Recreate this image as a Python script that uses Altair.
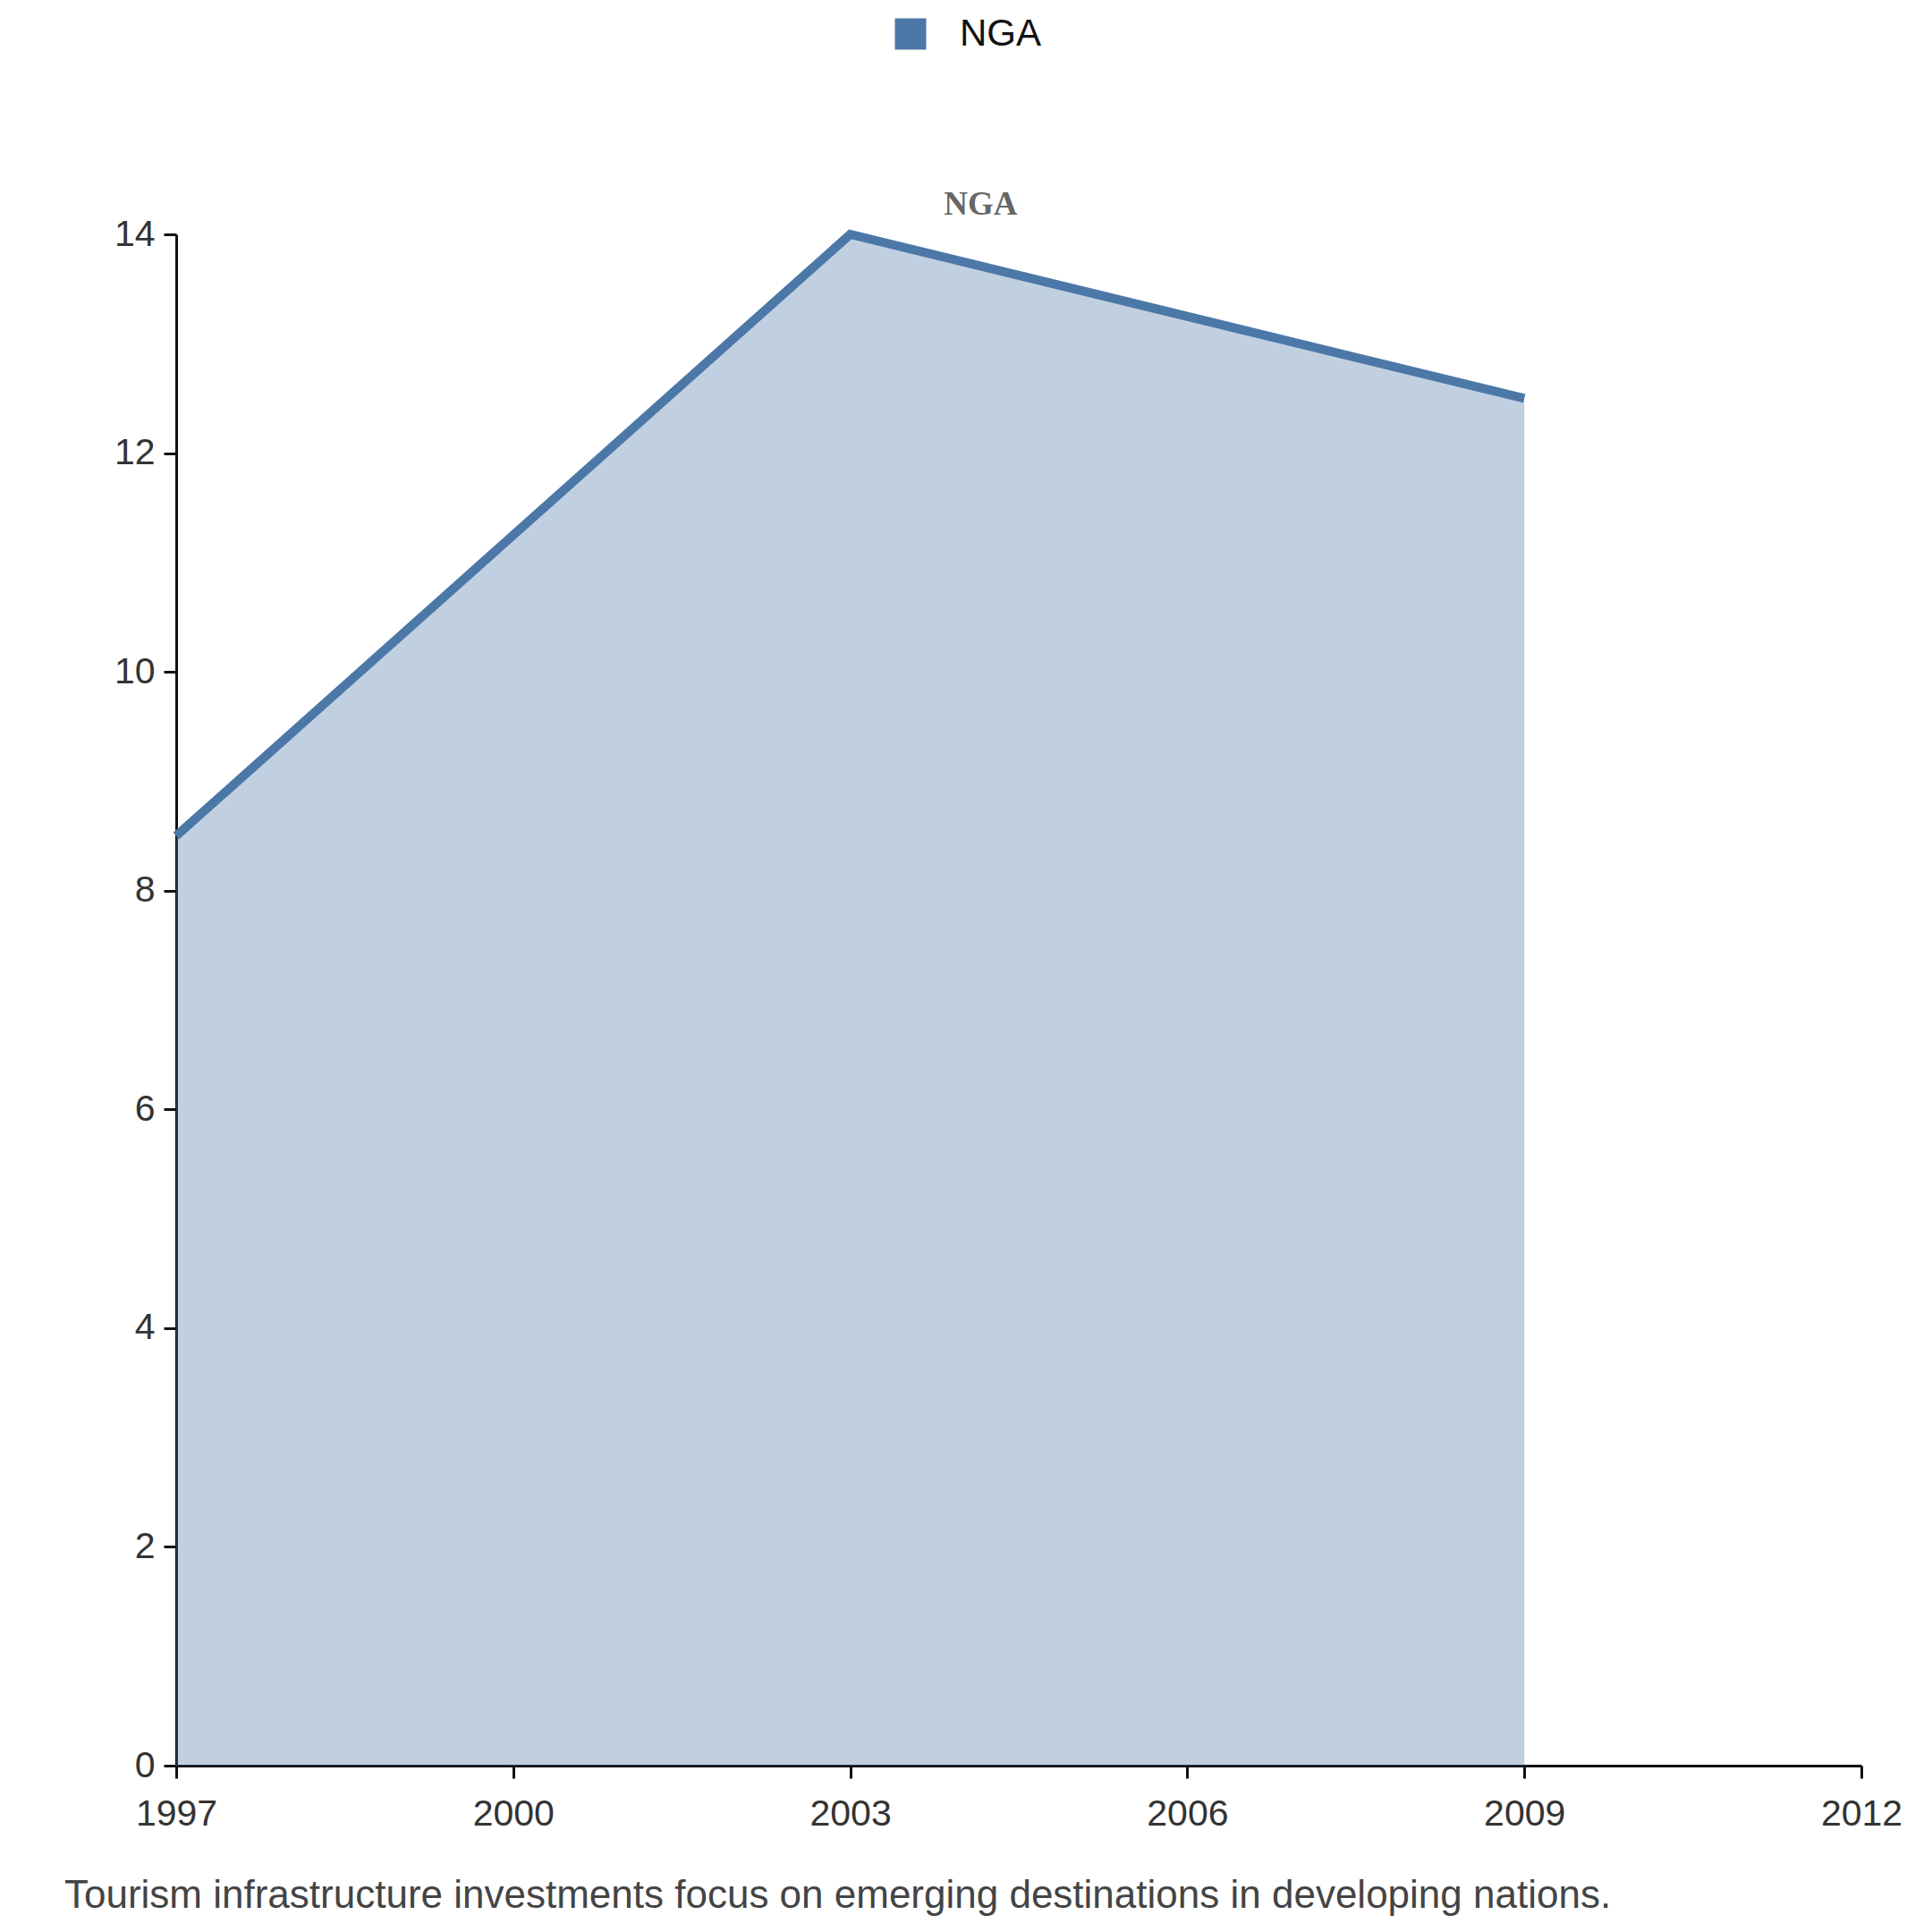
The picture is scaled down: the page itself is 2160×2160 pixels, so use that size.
import altair as alt
import pandas as pd

years = [1997, 2003, 2009]
values = [8.5, 14.0, 12.5]
series = ["NGA", "NGA", "NGA"]
caption = "Tourism infrastructure investments focus on emerging destinations in developing nations."

df = pd.DataFrame({"year": years, "value": values, "country": series})
col = "#4c78a8"

x = alt.X("year:Q", scale=alt.Scale(domain=[1997, 2012], nice=False, zero=False),
          axis=alt.Axis(values=[1997, 2000, 2003, 2006, 2009, 2012], format="d", title=None,
                        grid=False, labelFontSize=41, labelColor="#333", labelPadding=20,
                        labelFlush=False, labelAlign="center",
                        tickSize=14, tickWidth=3, tickColor="#111", domainColor="#111", domainWidth=3,
                        labelFont="Liberation Sans"))
y = alt.Y("value:Q", scale=alt.Scale(domain=[0, 14], nice=False),
          axis=alt.Axis(values=[0, 2, 4, 6, 8, 10, 12, 14], format="d", title=None, grid=False,
                        labelFontSize=41, labelColor="#333", labelPadding=10,
                        tickSize=14, tickWidth=3, tickColor="#111", domainColor="#111", domainWidth=3,
                        labelFont="Liberation Sans"))

area = alt.Chart(df).mark_area(opacity=0.35, line=False).encode(
    x=x, y=y,
    color=alt.Color("country:N", scale=alt.Scale(range=[col]),
                    legend=alt.Legend(title=None, orient="none", legendX=800, legendY=-245,
                                      symbolType="square", symbolSize=1225, symbolStrokeWidth=0,
                                      symbolOpacity=1, labelFontSize=42, labelFont="Liberation Sans",
                                      labelColor="#111", labelOffset=34)))
line = alt.Chart(df).mark_line(strokeWidth=10, color=col).encode(x=x, y=y)

lab = alt.Chart(pd.DataFrame({"year": [2004.16], "value": [14.27], "t": ["NGA"]})).mark_text(
    font="Liberation Serif", fontWeight="bold", fontSize=37, color="#666", clip=False
).encode(x="year:Q", y="value:Q", text="t:N")

cap = alt.Chart(pd.DataFrame({"t": [caption]})).mark_text(
    align="left", baseline="middle", fontSize=44, font="Liberation Sans", color="#444"
).encode(x=alt.value(-125), y=alt.value(1858), text="t:N")

chart = (area + line + lab + cap).properties(
    width=1884, height=1712,
    padding={"left": 189, "top": 254, "right": 70, "bottom": 175},
    autosize=alt.AutoSizeParams(type="none"),
).configure_view(stroke=None)

chart.save("out.html", embed_options={"renderer": "svg", "actions": False})
